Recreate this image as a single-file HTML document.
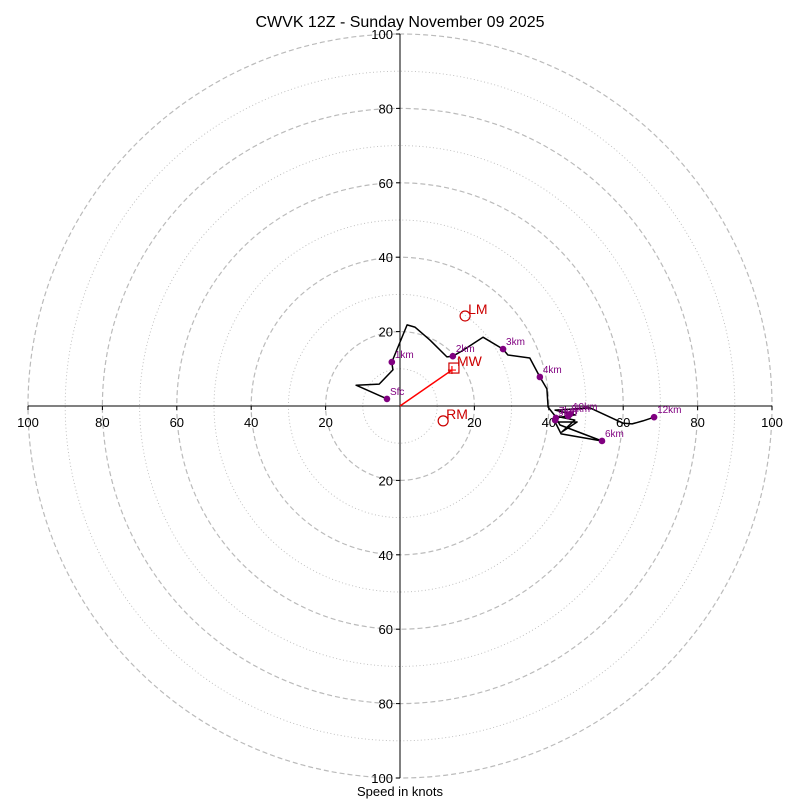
<!DOCTYPE html>
<html><head><meta charset="utf-8"><style>
html,body{margin:0;padding:0;background:#fff;}
svg{display:block;font-family:"Liberation Sans","DejaVu Sans",sans-serif;}
</style></head><body>
<svg id="c" width="800" height="800"></svg>
<script>
const ringSpeeds=[10,20,30,40,50,60,70,80,90,100];
const tickLabels=[20,40,60,80,100];
const windU=[-3.5,-11.8,-5.6,-1.9,-2.2,1.9,4.0,8.1,12.6,14.2,16.7,22.3,27.7,29.0,34.9,37.6,39.5,39.8,41.7,47.0,43.5,47.6,41.7,43.3,54.3,43.0,41.9,45.2,47.0,41.7,51.1,59.9,62.4,65.3,68.3];
const windV=[1.9,5.6,5.9,9.7,11.8,21.8,21.2,17.7,13.2,13.4,14.8,18.5,15.3,13.7,12.9,7.8,4.6,-0.3,-2.7,-3.8,-7.0,-4.3,-4.3,-7.5,-9.4,-5.1,-3.2,-2.7,-2.4,-1.1,-0.5,-4.6,-4.8,-4.0,-3.0];
const markLabels=["Sfc","1km","2km","3km","4km","6km","7km","9km","8km","10km","12km"];
const markU=[-3.5,-2.2,14.2,27.7,37.6,54.3,41.9,41.7,45.2,45.7,68.3];
const markV=[1.9,11.8,13.4,15.3,7.8,-9.4,-3.2,-3.8,-2.7,-2.2,-3.0];
const motionNames=["LM","MW","RM"];
const motionU=[17.5,14.5,11.6];
const motionV=[24.2,10.2,-4.0];

const NS="http://www.w3.org/2000/svg";
const svg=document.getElementById('c');
const cx=400,cy=406,k=3.72;
const X=u=>cx+u*k, Y=v=>cy-v*k;
function mk(tag,attrs,parent){const e=document.createElementNS(NS,tag);for(const a in attrs)e.setAttribute(a,attrs[a]);(parent||svg).appendChild(e);return e;}

// rings
ringSpeeds.forEach(s=>{
  const e=mk('circle',{cx:cx,cy:cy,r:s*k,fill:'none',stroke:'#bbb','stroke-width':s%20===0?1.2:0.9,'stroke-dasharray':s%20===0?'5,3':'1,2.5'});
  
  
});
// axes
let ax=mk('line',{x1:X(-100),y1:cy,x2:X(100),y2:cy,stroke:'#000','stroke-width':1});


let ay=mk('line',{x1:cx,y1:Y(100),x2:cx,y2:Y(-100),stroke:'#000','stroke-width':1});


tickLabels.forEach(t=>{
  [-1,1].forEach(sg=>{
    mk('line',{x1:X(sg*t),y1:cy,x2:X(sg*t),y2:cy+4,stroke:'#000'});
    const tx=mk('text',{x:X(sg*t),y:cy+21,'text-anchor':'middle','font-size':13,fill:'#000'});
    tx.textContent=t;
    
    
    mk('line',{x1:cx-4,y1:Y(sg*t),x2:cx,y2:Y(sg*t),stroke:'#000'});
    const ty=mk('text',{x:cx-7,y:Y(sg*t)+5,'text-anchor':'end','font-size':13,fill:'#000'});
    ty.textContent=t;
    
    
  });
});
// hodograph line
const pts=windU.map((u,i)=>X(u).toFixed(1)+','+Y(windV[i]).toFixed(1)).join(' ');
const pl=mk('polyline',{points:pts,fill:'none',stroke:'#000','stroke-width':1.5,'stroke-linejoin':'round'});


// mean wind arrow
const mwx=X(motionU[1])-2,mwy=Y(motionV[1])+2;
const ar=mk('line',{x1:cx,y1:cy,x2:mwx,y2:mwy,stroke:'red','stroke-width':1.5});


mk('path',{d:`M${mwx-4},${mwy}h8M${mwx},${mwy-4}v8`,stroke:'red','stroke-width':1.2});
// height markers
markLabels.forEach((l,i)=>{
  const d=mk('circle',{cx:X(markU[i]),cy:Y(markV[i]),r:3.3,fill:'purple'});
  
  
  const t=mk('text',{x:X(markU[i])+3,y:Y(markV[i])-4,'font-size':10,fill:'purple'});
  t.textContent=l;
  
  
});
// storm motions
motionNames.forEach((n,i)=>{
  const x=X(motionU[i]),y=Y(motionV[i]);
  let m;
  if(n==='MW') m=mk('rect',{x:x-5,y:y-5,width:10,height:10,fill:'none',stroke:'#c00','stroke-width':1.2});
  else m=mk('circle',{cx:x,cy:y,r:5,fill:'none',stroke:'#c00','stroke-width':1.2});
  
  
  const t=mk('text',{x:x+3,y:y-2,'font-size':14,fill:'#c00'});
  t.textContent=n;
  
  
});
// title + axis label
const ti=mk('text',{x:400,y:27,'text-anchor':'middle','font-size':16,fill:'#000'});
ti.textContent='CWVK 12Z - Sunday November 09 2025';


const xl=mk('text',{x:400,y:796,'text-anchor':'middle','font-size':13,fill:'#000'});
xl.textContent='Speed in knots';


</script>
</body></html>
